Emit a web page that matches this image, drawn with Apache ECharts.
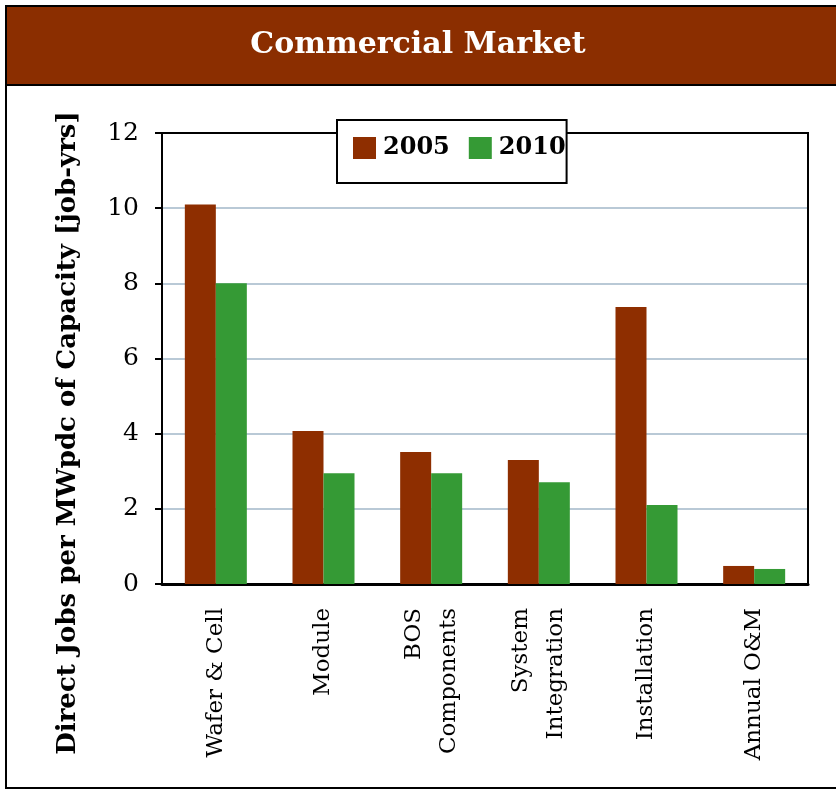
<!DOCTYPE html>
<html><head><meta charset="utf-8">
<script src="https://cdn.jsdelivr.net/npm/echarts@6/dist/echarts.min.js"></script>
<style>html,body{margin:0;padding:0;background:#fff}#c{width:836px;height:791px}</style>
</head><body><div id="c"></div>
<script>
const categories = ['Wafer & Cell', 'Module', 'BOS\nComponents', 'System\nIntegration', 'Installation', 'Annual O&M'];
const values2005 = [10.1, 4.07, 3.51, 3.3, 7.37, 0.48];
const values2010 = [8.0, 2.95, 2.95, 2.71, 2.1, 0.4];
const seriesNames = ['2005', '2010'];
const titleText = 'Commercial Market';
const yAxisName = 'Direct Jobs per MWpdc of Capacity [job-yrs]';

const FONT = '"DejaVu Serif", serif';
const chart = echarts.init(document.getElementById('c'), null, {renderer: 'canvas'});
chart.setOption({
  animation: false,
  graphic: [
    {type: 'rect', z: 0, shape: {x: 6, y: 6, width: 834, height: 782}, style: {fill: '#fff', stroke: '#000', lineWidth: 2}},
    {type: 'rect', z: 1, shape: {x: 7, y: 7, width: 832, height: 77}, style: {fill: '#8B2E00', stroke: null}},
    {type: 'line', z: 2, shape: {x1: 6, y1: 85, x2: 836, y2: 85}, style: {stroke: '#000', lineWidth: 2}},
    {type: 'text', z: 3, left: 'center', top: 30, style: {text: titleText, fill: '#fff', font: 'bold 30px ' + FONT}},
    {type: 'text', z: 3, x: 68, y: 433, rotation: Math.PI / 2,
     style: {text: yAxisName, fill: '#000', font: 'bold 26px ' + FONT, textAlign: 'center', textVerticalAlign: 'middle'}}
  ],
  grid: {left: 162, right: 28, top: 133, bottom: 207, show: true, borderColor: '#000', borderWidth: 2, backgroundColor: 'transparent', z: 2},
  legend: {
    data: seriesNames, left: 337, top: 120, orient: 'horizontal',
    padding: [16, 1, 23, 16], itemGap: 19, itemWidth: 23, itemHeight: 22,
    backgroundColor: '#fff', borderColor: '#000', borderWidth: 2, borderRadius: 0, z: 10,
    icon: 'rect',
    textStyle: {fontFamily: FONT, fontWeight: 'bold', fontSize: 24, color: '#000', padding: [0, 0, 0, 2]}
  },
  xAxis: {
    type: 'category', data: categories,
    axisLine: {lineStyle: {color: '#000', width: 3}},
    axisTick: {show: false},
    axisLabel: {rotate: 90, fontFamily: FONT, fontSize: 23, color: '#000', margin: 24, lineHeight: 35}
  },
  yAxis: {
    type: 'value', min: 0, max: 12, interval: 2,
    axisLine: {show: true, lineStyle: {color: '#000', width: 2}},
    axisTick: {show: true, length: 7, lineStyle: {color: '#000', width: 2}},
    axisLabel: {fontFamily: FONT, fontSize: 25, color: '#000', margin: 23},
    splitLine: {lineStyle: {color: '#B9C9D6', width: 2}}
  },
  series: [
    {name: seriesNames[0], type: 'bar', data: values2005, barWidth: 31, barGap: '0%', itemStyle: {color: '#8E2E00'}},
    {name: seriesNames[1], type: 'bar', data: values2010, barWidth: 31, barGap: '0%', itemStyle: {color: '#359A35'}}
  ]
});
</script></body></html>
